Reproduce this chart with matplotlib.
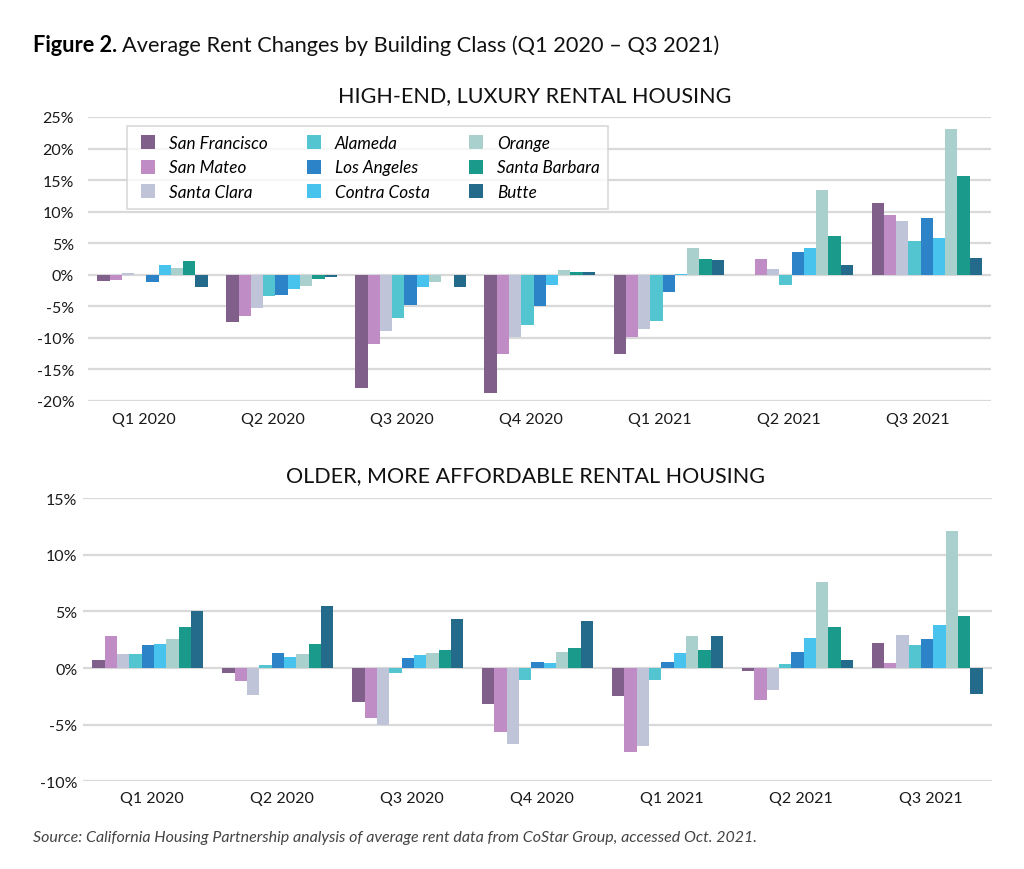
import numpy as np
import matplotlib
matplotlib.use('Agg')
import matplotlib.pyplot as plt
from matplotlib.lines import Line2D

plt.rcParams['font.family'] = ['Lato', 'DejaVu Sans']

quarters = ['Q1 2020', 'Q2 2020', 'Q3 2020', 'Q4 2020', 'Q1 2021', 'Q2 2021', 'Q3 2021']
counties = ['San Francisco', 'San Mateo', 'Santa Clara', 'Alameda', 'Los Angeles',
            'Contra Costa', 'Orange', 'Santa Barbara', 'Butte']
colors = ['#80608a', '#bf8cc6', '#bfc4d8', '#52c5d0', '#2d83c8',
          '#48c3ee', '#a9d0cc', '#1a9a8b', '#236a8b']

# high-end, luxury rental housing (% change), one list per county, by quarter
lux_sf = [-1.0, -7.5, -18.0, -18.7, -12.6, 0.0, 11.4]
lux_sm = [-0.9, -6.6, -11.0, -12.5, -9.9, 2.5, 9.5]
lux_sc = [0.3, -5.2, -8.9, -9.9, -8.6, 0.9, 8.55]
lux_al = [0.0, -3.3, -6.8, -8.0, -7.3, -1.55, 5.35]
lux_la = [-1.1, -3.2, -4.8, -4.9, -2.8, 3.6, 9.0]
lux_cc = [1.55, -2.25, -2.0, -1.6, 0.1, 4.2, 5.9]
lux_or = [1.0, -1.8, -1.2, 0.75, 4.3, 13.5, 23.1]
lux_sb = [2.25, -0.6, 0.0, 0.4, 2.5, 6.2, 15.6]
lux_bu = [-1.9, -0.4, -1.9, 0.5, 2.35, 1.55, 2.7]

# older, more affordable rental housing (% change)
old_sf = [0.67, -0.4, -3.0, -3.2, -2.45, -0.3, 2.2]
old_sm = [2.83, -1.15, -4.4, -5.7, -7.4, -2.8, 0.44]
old_sc = [1.28, -2.4, -5.0, -6.7, -6.9, -1.9, 2.9]
old_al = [1.28, 0.25, -0.4, -1.1, -1.08, 0.35, 2.04]
old_la = [2.0, 1.37, 0.9, 0.52, 0.52, 1.46, 2.54]
old_cc = [2.1, 0.96, 1.17, 0.44, 1.37, 2.62, 3.8]
old_or = [2.57, 1.2, 1.34, 1.43, 2.8, 7.6, 12.1]
old_sb = [3.67, 2.15, 1.57, 1.75, 1.57, 3.6, 4.6]
old_bu = [5.0, 5.5, 4.35, 4.17, 2.8, 0.73, -2.3]

lux = [lux_sf, lux_sm, lux_sc, lux_al, lux_la, lux_cc, lux_or, lux_sb, lux_bu]
old = [old_sf, old_sm, old_sc, old_al, old_la, old_cc, old_or, old_sb, old_bu]

fig = plt.figure(figsize=(10.24, 8.70), dpi=100)
ax1 = fig.add_axes([0.086, 0.538, 0.882, 0.3264])
ax2 = fig.add_axes([0.081, 0.101, 0.888, 0.325])

x = np.arange(len(quarters))
w = 0.095
grid_c = '#d9d9d9'


def draw(ax, series, ylo, yhi, step, lab_shift, ypad, xpad):
    for i, vals in enumerate(series):
        ax.bar(x + (i - 4) * w, vals, w, color=colors[i], zorder=3, linewidth=0)
    ax.set_xlim(-0.5, 6.5)
    ax.set_ylim(ylo, yhi)
    ax.set_yticks(np.arange(ylo, yhi + 0.1, step))
    ax.set_yticklabels([f'{int(v)}%' for v in np.arange(ylo, yhi + 0.1, step)])
    ax.set_xticks(x + lab_shift)
    ax.set_xticklabels(quarters)
    ax.yaxis.grid(True, color=grid_c, linewidth=1.6, zorder=0)
    ax.set_axisbelow(True)
    for s in ax.spines.values():
        s.set_visible(False)
    ax.tick_params(axis='both', length=0, labelsize=11.5, colors='#1a1a1a')
    ax.tick_params(axis='y', pad=ypad)
    ax.tick_params(axis='x', pad=xpad)


draw(ax1, lux, -20, 25, 5, -0.07, 10, 8)
draw(ax2, old, -10, 15, 5, 0.03, 4, 7)

handles = [Line2D([], [], ls='none', marker='s', markersize=9.5, color=c,
                  markeredgewidth=0) for c in colors]
leg = ax1.legend(handles, counties, ncol=3, loc='upper left',
                 bbox_to_anchor=(0.043, 0.968), borderaxespad=0, frameon=True,
                 fancybox=False, prop={'style': 'italic', 'size': 12.3},
                 handlelength=1.5, handletextpad=0.44, columnspacing=2.0,
                 labelspacing=0.52, borderpad=0.5)
leg.get_frame().set_edgecolor('#d0d0d0')
leg.get_frame().set_linewidth(1.2)
leg.set_zorder(5)

fig.text(0.522, 0.889, 'HIGH-END, LUXURY RENTAL HOUSING', ha='center', va='center',
         fontsize=15.5, color='#111111')
fig.text(0.513, 0.453, 'OLDER, MORE AFFORDABLE RENTAL HOUSING', ha='center', va='center',
         fontsize=15.5, color='#111111')

t1 = fig.text(0.032, 0.948, 'Figure 2.', ha='left', va='center', fontsize=15.7,
              fontweight='bold', color='#000000')
fig.canvas.draw()
bb = t1.get_window_extent(renderer=fig.canvas.get_renderer())
fig.text(bb.x1 / fig.bbox.width + 0.005, 0.948,
         'Average Rent Changes by Building Class (Q1 2020 \u2013 Q3 2021)',
         ha='left', va='center', fontsize=15.7, color='#111111')

fig.text(0.032, 0.037, 'Source: California Housing Partnership analysis of average rent data '
         'from CoStar Group, accessed Oct. 2021.', ha='left', va='center',
         fontsize=11.5, style='italic', color='#444444')

fig.savefig('out.png', dpi=100)
